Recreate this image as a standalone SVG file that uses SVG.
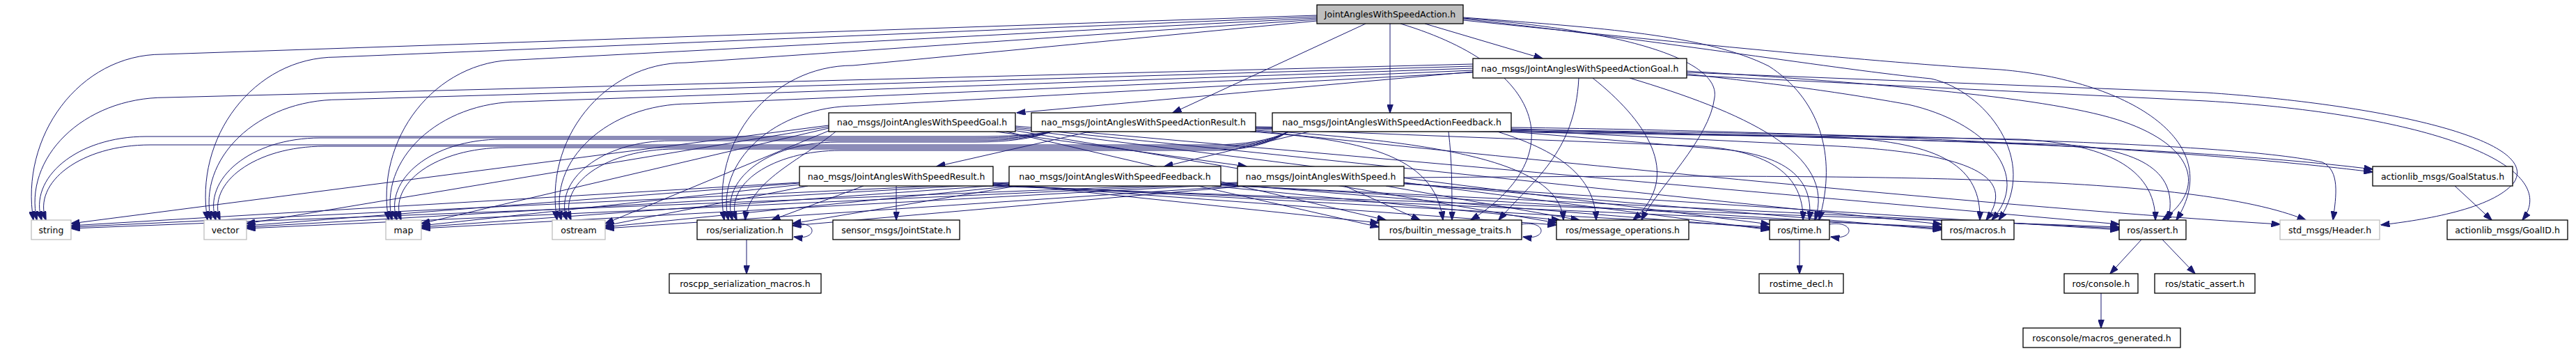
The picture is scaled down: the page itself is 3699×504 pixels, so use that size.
<svg xmlns="http://www.w3.org/2000/svg" width="3699" height="504" viewBox="0 0 3699 504">
<style>
.e path{fill:none;stroke:#191970;stroke-width:1;marker-end:url(#arr)}
.n rect{fill:#fff;stroke:#000;stroke-width:1.3}
.n.g rect{stroke:#bfbfbf}
.n.top rect{fill:#bfbfbf}
.n text{font-family:"DejaVu Sans",sans-serif;font-size:12.5px;text-anchor:middle;fill:#000}
</style>
<defs>
<marker id="arr" viewBox="0 0 13 9" refX="12.5" refY="4.5" markerWidth="13" markerHeight="9" markerUnits="userSpaceOnUse" orient="auto"><path d="M0,0 L13,4.5 L0,9 z" fill="#191970" stroke="#191970" stroke-width="1"/></marker>
</defs>
<rect x="0" y="0" width="3699" height="504" fill="#fff"/>
<g id="connectors" class="e">
<path d="M2046,34 L2215,84"/>
<path d="M1961,34 L1684,162"/>
<path d="M1996,34 L1996,162"/>
<path d="M1891,22 L233,78 C113,78 28,197 48,316"/>
<path d="M1891,24 L483,82 C363,82 278,199 298,316"/>
<path d="M1891,26 L743,86 C623,86 538,201 558,316"/>
<path d="M1891,28 L985,90 C865,90 780,203 800,316"/>
<path d="M1891,30 L1225,94 C1105,94 1020,205 1040,316"/>
<path d="M2011,34 C2230,100 2250,230 2112,316"/>
<path d="M2101,26 C2350,45 2470,90 2462,140 C2455,200 2380,270 2357,316"/>
<path d="M2101,25 C2300,40 2450,50 2540,95 C2610,140 2640,220 2612,316"/>
<path d="M2101,27 C2400,60 2640,100 2773,113 C2850,130 2930,230 2870,316"/>
<path d="M2101,29 C2400,60 2700,90 2873,100 C3050,115 3200,200 3125,316"/>
<path d="M2115,103 L1460,162"/>
<path d="M2422,104 L3168,133 C3420,150 3650,200 3610,262 C3580,300 3480,316 3419,323"/>
<path d="M2422,108 L3168,145 C3500,165 3680,240 3622,316"/>
<path d="M2267,112 C2262,220 2200,260 2152,316"/>
<path d="M2287,112 C2360,170 2420,250 2345,316"/>
<path d="M2340,112 C2500,160 2640,220 2606,316"/>
<path d="M2422,106 C2520,118 2600,125 2740,150 C2850,175 2920,250 2860,316"/>
<path d="M2422,102 C2700,120 2950,140 3050,175 C3150,210 3170,270 3105,316"/>
<path d="M2115,92 L238,140 C118,140 33,228 53,316"/>
<path d="M2115,95 L488,143 C368,143 283,229 303,316"/>
<path d="M2115,98 L748,146 C628,146 543,231 563,316"/>
<path d="M2115,101 L991,149 C871,149 786,232 806,316"/>
<path d="M2115,104 L1231,152 C1111,152 1026,234 1046,316"/>
<path d="M1430,189 L1790,239"/>
<path d="M1190,180 L102,321"/>
<path d="M1190,182 L354,321"/>
<path d="M1190,184 L605,321"/>
<path d="M1192,187 L869,321"/>
<path d="M1200,189 C1150,230 1075,260 1070,316"/>
<path d="M1445,189 L1990,316"/>
<path d="M1455,187 L2235,320"/>
<path d="M1458,185 L2541,322"/>
<path d="M1458,183 L2788,322"/>
<path d="M1458,181 L3043,322"/>
<path d="M1565,189 L1345,239"/>
<path d="M1803,188 C2200,230 2900,300 3274,322"/>
<path d="M1803,183 C2500,190 3100,205 3407,243"/>
<path d="M1795,189 C1950,200 2060,220 2072,316"/>
<path d="M1803,187 C2100,205 2240,240 2245,316"/>
<path d="M1803,185 L2445,210 C2540,218 2590,250 2589,316"/>
<path d="M1803,184 L2640,197 C2790,205 2845,240 2843,316"/>
<path d="M1803,182 L2900,200 C3020,206 3095,240 3095,316"/>
<path d="M1510,189 Q1470,196 1400,196 L210,196 C110,196 40,256 60,316"/>
<path d="M1510,189 Q1470,198 1400,198 L460,198 C360,198 290,257 310,316"/>
<path d="M1510,189 Q1470,200 1400,200 L720,200 C620,200 550,258 570,316"/>
<path d="M1510,189 Q1470,202 1400,202 L964,202 C864,202 794,259 814,316"/>
<path d="M1510,189 Q1470,204 1400,204 L1202,204 C1102,204 1032,260 1052,316"/>
<path d="M1880,189 L1672,239"/>
<path d="M2170,183 C2700,190 3150,215 3407,247"/>
<path d="M2170,186 C2800,195 3200,205 3335,233 C3360,245 3355,280 3350,316"/>
<path d="M2080,189 C2085,230 2085,270 2085,316"/>
<path d="M2150,189 C2250,220 2290,260 2292,316"/>
<path d="M2170,189 L2480,215 C2570,225 2605,260 2598,316"/>
<path d="M2170,187 L2640,210 C2820,220 2900,250 2852,316"/>
<path d="M2170,185 L2950,207 C3080,212 3130,250 3113,316"/>
<path d="M1850,189 Q1810,208 1740,208 L216,208 C116,208 46,262 66,316"/>
<path d="M1850,189 Q1810,210 1740,210 L466,210 C366,210 296,263 316,316"/>
<path d="M1850,189 Q1810,212 1740,212 L726,212 C626,212 556,264 576,316"/>
<path d="M1850,189 Q1810,214 1740,214 L970,214 C870,214 800,265 820,316"/>
<path d="M1850,189 Q1810,216 1740,216 L1208,216 C1108,216 1038,266 1058,316"/>
<path d="M1287,267 L1287,316"/>
<path d="M1240,267 L1108,316"/>
<path d="M1148,262 L102,324"/>
<path d="M1148,263 L354,324"/>
<path d="M1150,265 L605,324"/>
<path d="M1160,267 L869,324"/>
<path d="M1426,262 L1980,320"/>
<path d="M1426,264 L2235,323"/>
<path d="M1426,265 L2541,326"/>
<path d="M1426,266 L2788,326"/>
<path d="M1420,267 L3043,326"/>
<path d="M1449,262 L102,326"/>
<path d="M1449,263 L354,326"/>
<path d="M1449,265 L605,326"/>
<path d="M1455,267 L869,326"/>
<path d="M1460,267 L1138,321"/>
<path d="M1720,267 L1980,326"/>
<path d="M1740,267 L2240,316"/>
<path d="M1753,264 L2541,328"/>
<path d="M1753,265 L2788,328"/>
<path d="M1753,266 L3043,328"/>
<path d="M1777,262 L102,328"/>
<path d="M1777,263 L354,328"/>
<path d="M1777,264 L605,328"/>
<path d="M1780,267 L869,328"/>
<path d="M1790,267 L1138,324"/>
<path d="M1931,267 L2039,316"/>
<path d="M1990,267 L2268,316"/>
<path d="M2016,262 L2541,330"/>
<path d="M2016,263 L2788,330"/>
<path d="M2016,264 L3043,330"/>
<path d="M2016,255 C2700,250 3150,250 3311,316"/>
<path d="M3525,267 L3578,316"/>
<path d="M1138,322 C1175,316 1175,346 1140,340"/>
<path d="M2185,322 C2222,316 2222,346 2187,340"/>
<path d="M2627,322 C2664,316 2664,346 2629,340"/>
<path d="M1072,344 L1072,393"/>
<path d="M2584,344 L2584,393"/>
<path d="M3075,344 L3030,393"/>
<path d="M3105,344 L3152,393"/>
<path d="M3017,421 L3017,471"/>
</g>
<g id="node-action" class="n top"><rect x="1891" y="7" width="210" height="27"/><text x="1996" y="25">JointAnglesWithSpeedAction.h</text></g>
<g id="node-actiongoal" class="n"><rect x="2115" y="84" width="307" height="28"/><text x="2268.5" y="102.5">nao_msgs/JointAnglesWithSpeedActionGoal.h</text></g>
<g id="node-goal" class="n"><rect x="1190" y="162" width="268" height="27"/><text x="1324" y="180">nao_msgs/JointAnglesWithSpeedGoal.h</text></g>
<g id="node-actionresult" class="n"><rect x="1481" y="162" width="322" height="27"/><text x="1642" y="180">nao_msgs/JointAnglesWithSpeedActionResult.h</text></g>
<g id="node-actionfeedback" class="n"><rect x="1827" y="162" width="343" height="27"/><text x="1998.5" y="180">nao_msgs/JointAnglesWithSpeedActionFeedback.h</text></g>
<g id="node-result" class="n"><rect x="1148" y="239" width="278" height="28"/><text x="1287" y="257.5">nao_msgs/JointAnglesWithSpeedResult.h</text></g>
<g id="node-feedback" class="n"><rect x="1449" y="239" width="304" height="28"/><text x="1601" y="257.5">nao_msgs/JointAnglesWithSpeedFeedback.h</text></g>
<g id="node-jaws" class="n"><rect x="1777" y="239" width="239" height="28"/><text x="1896.5" y="257.5">nao_msgs/JointAnglesWithSpeed.h</text></g>
<g id="node-goalstatus" class="n"><rect x="3407" y="239" width="201" height="28"/><text x="3507.5" y="257.5">actionlib_msgs/GoalStatus.h</text></g>
<g id="node-string" class="n g"><rect x="45" y="316" width="57" height="28"/><text x="73.5" y="334.5">string</text></g>
<g id="node-vector" class="n g"><rect x="293" y="316" width="61" height="28"/><text x="323.5" y="334.5">vector</text></g>
<g id="node-map" class="n g"><rect x="554" y="316" width="51" height="28"/><text x="579.5" y="334.5">map</text></g>
<g id="node-ostream" class="n g"><rect x="793" y="316" width="76" height="28"/><text x="831" y="334.5">ostream</text></g>
<g id="node-serialization" class="n"><rect x="1001" y="316" width="137" height="28"/><text x="1069.5" y="334.5">ros/serialization.h</text></g>
<g id="node-jointstate" class="n"><rect x="1196" y="316" width="182" height="28"/><text x="1287" y="334.5">sensor_msgs/JointState.h</text></g>
<g id="node-builtin" class="n"><rect x="1980" y="316" width="205" height="28"/><text x="2082.5" y="334.5">ros/builtin_message_traits.h</text></g>
<g id="node-msgops" class="n"><rect x="2235" y="316" width="190" height="28"/><text x="2330" y="334.5">ros/message_operations.h</text></g>
<g id="node-time" class="n"><rect x="2541" y="316" width="86" height="28"/><text x="2584" y="334.5">ros/time.h</text></g>
<g id="node-macros" class="n"><rect x="2788" y="316" width="104" height="28"/><text x="2840" y="334.5">ros/macros.h</text></g>
<g id="node-assert" class="n"><rect x="3043" y="316" width="96" height="28"/><text x="3091" y="334.5">ros/assert.h</text></g>
<g id="node-header" class="n g"><rect x="3274" y="316" width="143" height="28"/><text x="3345.5" y="334.5">std_msgs/Header.h</text></g>
<g id="node-goalid" class="n"><rect x="3514" y="316" width="173" height="28"/><text x="3600.5" y="334.5">actionlib_msgs/GoalID.h</text></g>
<g id="node-sermacros" class="n"><rect x="961" y="393" width="218" height="28"/><text x="1070" y="411.5">roscpp_serialization_macros.h</text></g>
<g id="node-rostimedecl" class="n"><rect x="2526" y="393" width="121" height="28"/><text x="2586.5" y="411.5">rostime_decl.h</text></g>
<g id="node-console" class="n"><rect x="2964" y="393" width="106" height="28"/><text x="3017" y="411.5">ros/console.h</text></g>
<g id="node-staticassert" class="n"><rect x="3094" y="393" width="144" height="28"/><text x="3166" y="411.5">ros/static_assert.h</text></g>
<g id="node-macrosgen" class="n"><rect x="2905" y="471" width="226" height="28"/><text x="3018" y="489.5">rosconsole/macros_generated.h</text></g>
</svg>
